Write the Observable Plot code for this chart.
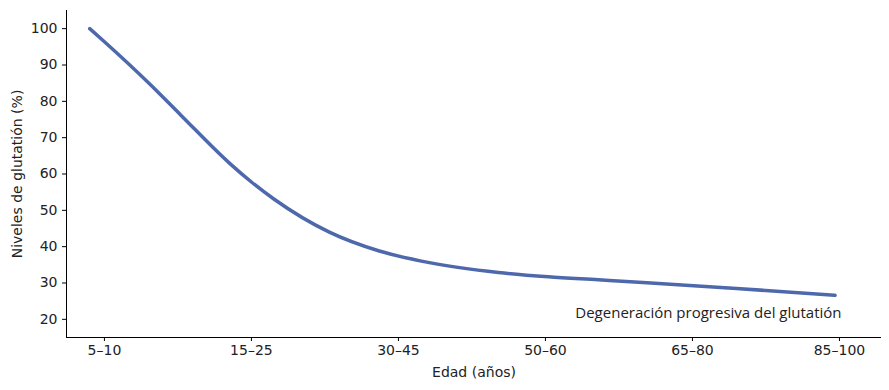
<!DOCTYPE html>
<html>
<head>
<meta charset="utf-8">
<script src="https://cdn.jsdelivr.net/npm/d3@7"></script>
<script src="https://cdn.jsdelivr.net/npm/@observablehq/plot@0.6"></script>
<style>
  html, body { margin: 0; padding: 0; background: #fff; }
  #chart svg { display: block; }
  #chart svg g[aria-label$="tick label"],
  #chart svg g[aria-label$="tick label"] text { font-size: 14px !important; font-family: "DejaVu Sans", sans-serif; }
</style>
</head>
<body>
<div id="chart"></div>
<script>
// Age groups (x categories, tick labels)
const ageGroups = ["5–10", "15–25", "30–45", "50–60", "65–80", "85–100"];
const curvePos   = [-0.10, 0, 0.31, 0.52, 0.85, 1.0, 1.15, 1.53, 1.87, 2.21, 2.68, 3.02, 3.36, 3.69, 4.30, 4.97];
const curveLevel = [100, 96.4, 84.7, 76.2, 63.0, 57.8, 53.2, 44.0, 38.8, 35.6, 32.9, 31.7, 30.9, 30.1, 28.5, 26.6];
// Y-axis ticks
const yTicks = [20, 30, 40, 50, 60, 70, 80, 90, 100];
const annotation = "Degeneración progresiva del glutatión";
const xLabel = "Edad (años)";
const yLabel = "Niveles de glutatión (%)";

const curve = curvePos.map((x, i) => ({x, y: curveLevel[i]}));
const xDomain = [-0.258, 5.286];
const yDomain = [15, 105];
const mainFont = "DejaVu Sans";

const chart = Plot.plot({
  width: 889,
  height: 390,
  marginLeft: 66,
  marginRight: 8,
  marginTop: 10,
  marginBottom: 53,
  style: {fontFamily: mainFont, fontSize: "14px", color: "#222", background: "#fff"},
  x: {type: "linear", domain: xDomain},
  y: {type: "linear", domain: yDomain},
  marks: [
    Plot.axisX({ticks: ageGroups.map((d, i) => i), tickFormat: i => ageGroups[i], tickSize: 4, tickPadding: 4, label: null, stroke: "#000", fontSize: 14}),
    Plot.axisY({ticks: yTicks, tickSize: 4, tickPadding: 5, label: null, stroke: "#000", fontSize: 14}),
    Plot.ruleX([xDomain[0]], {stroke: "#000", strokeWidth: 1}),
    Plot.ruleY([yDomain[0]], {stroke: "#000", strokeWidth: 1}),
    Plot.line(curve, {x: "x", y: "y", curve: "monotone-x", stroke: "#4E68AC", strokeWidth: 3.5}),
    Plot.text([annotation], {x: 5.014, y: 21.7, text: d => d, textAnchor: "end", fontFamily: "Open Sans", fontSize: 15, fill: "#222"}),
    Plot.text([xLabel], {frameAnchor: "bottom", dy: 35, lineAnchor: "middle", textAnchor: "middle", text: d => d, fill: "#222", fontFamily: mainFont, fontSize: 14}),
    Plot.text([yLabel], {frameAnchor: "left", dx: -49, rotate: -90, lineAnchor: "middle", textAnchor: "middle", text: d => d, fill: "#222", fontFamily: mainFont, fontSize: 14})
  ]
});
document.getElementById("chart").append(chart);
</script>
</body>
</html>
